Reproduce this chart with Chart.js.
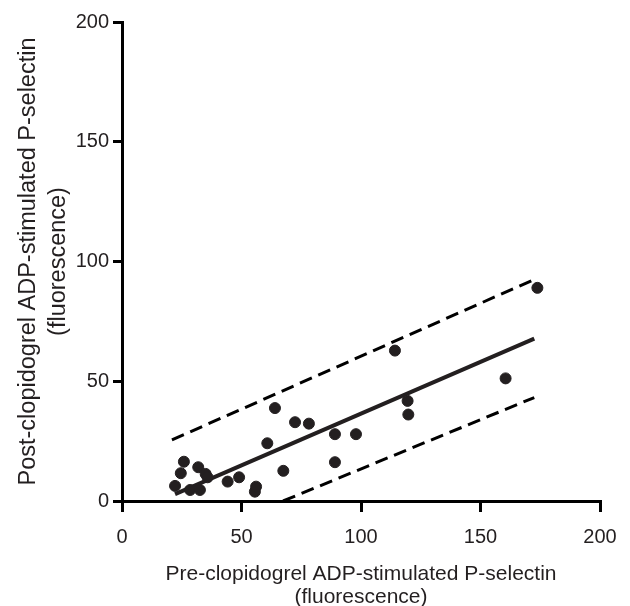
<!DOCTYPE html>
<html>
<head>
<meta charset="utf-8">
<script src="https://cdn.jsdelivr.net/npm/chart.js@4"></script>
<style>
  body { margin: 0; background: #fff; }
  canvas { display: block; }
</style>
</head>
<body>
<canvas id="scatterChart" width="630" height="606"></canvas>
<script>
// pre vs post clopidogrel P-selectin values
const preValues  = [22.2, 24.6, 25.9, 28.5, 31.9, 32.6, 35.0, 35.8, 44.2, 49.0, 55.6, 56.1, 60.8, 64.0, 67.5, 72.4, 78.2, 89.1, 89.1, 97.9, 114.2, 119.5, 119.8, 160.5, 173.8];
const postValues = [6.3, 11.6, 16.4, 4.6, 14.1, 4.6, 11.3, 9.9, 8.1, 9.9, 3.9, 6.0, 24.1, 38.8, 12.6, 32.9, 32.3, 27.9, 16.2, 27.9, 62.8, 41.8, 36.1, 51.2, 89.0];

// regression line and prediction band end points
const fitX = [22.2, 172.5];
const fitY = [2.9, 67.8];
const upperX = [20.9, 172.5];
const upperY = [25.5, 92.5];
const lowerX = [67.4, 172.5];
const lowerY = [0, 43.2];

const xTicks = [0, 50, 100, 150, 200];
const yTicks = [0, 50, 100, 150, 200];

const ink = '#231f20';
const fontFamily = 'Liberation Sans, Arial, sans-serif';
const toPoints = (xs, ys) => xs.map((x, i) => ({ x: x, y: ys[i] }));

const ctx = document.getElementById('scatterChart').getContext('2d');

new Chart(ctx, {
    type: 'scatter',
    data: {
        datasets: [
            {
                label: 'Patients',
                data: toPoints(preValues, postValues),
                backgroundColor: ink,
                borderColor: ink,
                pointRadius: 5.5,
                pointHoverRadius: 5.5
            },
            {
                label: 'Fit',
                data: toPoints(fitX, fitY),
                showLine: true,
                borderColor: ink,
                borderWidth: 4,
                pointRadius: 0
            },
            {
                label: 'Upper',
                data: toPoints(upperX, upperY),
                showLine: true,
                borderColor: '#000',
                borderWidth: 3,
                borderDash: [13, 7],
                pointRadius: 0
            },
            {
                label: 'Lower',
                data: toPoints(lowerX, lowerY),
                showLine: true,
                borderColor: '#000',
                borderWidth: 3,
                borderDash: [13, 7],
                pointRadius: 0
            }
        ]
    },
    options: {
        responsive: false,
        animation: false,
        layout: { padding: { top: 22, right: 30, left: 9, bottom: 0 } },
        plugins: {
            legend: { display: false },
            tooltip: { enabled: false }
        },
        scales: {
            x: {
                type: 'linear',
                min: 0,
                max: 200,
                afterFit: function(scale) { scale.height = 105; },
                afterBuildTicks: function(scale) { scale.ticks = xTicks.map(v => ({ value: v })); },
                grid: { drawOnChartArea: false, drawTicks: true, tickLength: 11, color: '#000', lineWidth: 3 },
                border: { display: true, color: '#000', width: 3 },
                ticks: {
                    color: ink,
                    padding: 13,
                    font: { family: fontFamily, size: 20 }
                },
                title: {
                    display: true,
                    text: ['Pre-clopidogrel ADP-stimulated P-selectin', '(fluorescence)'],
                    color: ink,
                    font: { family: fontFamily, size: 21, lineHeight: 1.1 },
                    padding: { top: 0, bottom: -3 }
                }
            },
            y: {
                type: 'linear',
                min: 0,
                max: 200,
                afterFit: function(scale) { scale.width = 113; },
                afterBuildTicks: function(scale) { scale.ticks = yTicks.map(v => ({ value: v })); },
                grid: { drawOnChartArea: false, drawTicks: true, tickLength: 9, color: '#000', lineWidth: 3 },
                border: { display: true, color: '#000', width: 3 },
                ticks: {
                    color: ink,
                    padding: 4,
                    font: { family: fontFamily, size: 20 }
                },
                title: {
                    display: true,
                    text: ['Post-clopidogrel ADP-stimulated P-selectin', '(fluorescence)'],
                    color: ink,
                    font: { family: fontFamily, size: 23.5, lineHeight: 1.3 },
                    padding: { top: 4, bottom: 0 }
                }
            }
        }
    }
});
</script>
</body>
</html>
